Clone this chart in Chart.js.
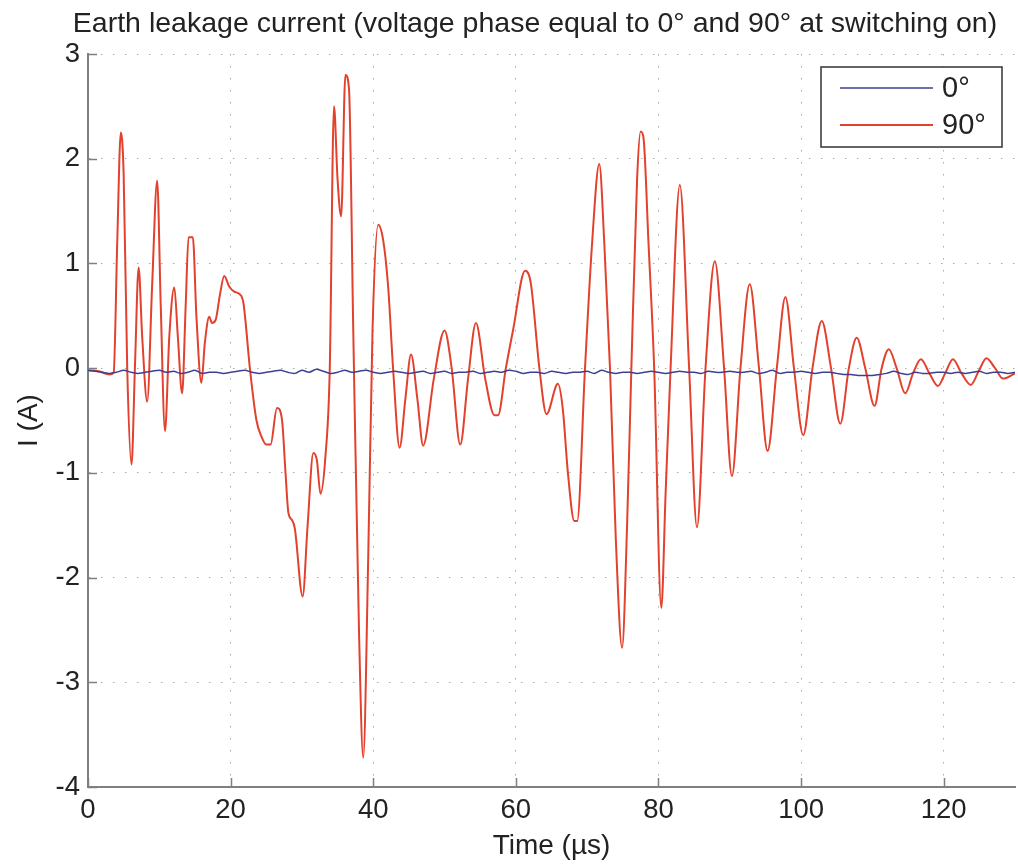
<!DOCTYPE html>
<html>
<head>
<meta charset="utf-8">
<script src="https://cdn.jsdelivr.net/npm/chart.js@4.4.1/dist/chart.umd.min.js"></script>
<style>
    html, body { margin: 0; padding: 0; background: #fff; }
    #wrap { width: 1018px; height: 865px; }
</style>
</head>
<body>
<div id="wrap"><canvas id="leakChart" width="1018" height="865"></canvas></div>
<script>
// 90° switching: time (µs) and current (A)
const redTime = [0, 1.5, 3.0, 3.6, 4.1, 4.6, 5.0, 5.5, 6.1, 6.6, 7.1, 7.6, 8.3, 9.0, 9.7, 10.2, 10.8, 11.4, 12.1, 12.6,
    13.2, 13.7, 14.1, 14.7, 15.2, 15.9, 16.4, 17.0, 17.4, 17.9, 18.5, 19.1, 19.8, 20.5, 21.2, 21.8, 22.7, 23.6, 24.3, 25.0,
    25.6, 26.5, 27.2, 27.7, 28.1, 28.6, 29.0, 30.1, 30.8, 31.6, 32.1, 32.6, 33.3, 33.9, 34.5, 35.0, 35.5, 36.1, 36.6, 37.2,
    38.0, 38.6, 39.3, 39.9, 40.7, 41.4, 42.1, 42.8, 43.7, 44.5, 45.3, 46.2, 47.0, 48.5, 50.0, 51.0, 52.2, 53.3, 54.4, 55.7,
    57.0, 57.5, 58.6, 59.6, 61.3, 62.1, 63.3, 64.3, 65.9, 66.6, 67.3, 68.2, 68.6, 69.7, 70.7, 71.7, 72.4, 73.2, 74.0, 74.9,
    75.6, 76.2, 77.0, 77.5, 77.9, 78.6, 79.4, 80.4, 81.0, 81.7, 83.0, 84.3, 85.4, 86.6, 87.9, 89.2, 90.3, 91.5, 92.8, 94.1,
    95.3, 96.6, 97.8, 99.0, 100.3, 101.6, 102.9, 104.2, 105.5, 106.7, 107.8, 109.0, 110.3, 111.3, 112.3, 113.4, 114.6, 115.7, 116.8, 118.0,
    119.2, 120.2, 121.3, 122.5, 123.8, 124.9, 126.0, 127.2, 128.3, 130];
const redCurrent = [-0.02, -0.03, -0.06, -0.04, 1.2, 2.25, 1.85, 0.0, -0.92, 0.05, 0.96, 0.3, -0.32, 0.8, 1.79, 0.6, -0.6, 0.3, 0.77, 0.3,
    -0.24, 0.6, 1.25, 1.25, 0.5, -0.14, 0.25, 0.49, 0.43, 0.46, 0.7, 0.88, 0.78, 0.73, 0.71, 0.62, 0.0, -0.49, -0.65, -0.73,
    -0.73, -0.38, -0.49, -1.0, -1.38, -1.45, -1.53, -2.18, -1.5, -0.81, -0.88, -1.2, -0.84, -0.02, 2.5, 1.8, 1.45, 2.8, 2.67, 0.36,
    -2.5, -3.72, -1.8, 0.36, 1.37, 1.22, 0.77, -0.02, -0.76, -0.3, 0.13, -0.3, -0.74, -0.1, 0.36, 0.0, -0.73, -0.1, 0.43, -0.1,
    -0.45, -0.45, 0.0, 0.36, 0.93, 0.81, 0.0, -0.44, -0.15, -0.4, -1.0, -1.46, -1.46, 0.0, 1.2, 1.95, 1.2, 0.0, -1.6, -2.67,
    -1.5, 0.0, 1.8, 2.26, 2.2, 1.2, 0.0, -2.29, -1.2, 0.0, 1.75, 0.0, -1.52, 0.0, 1.02, 0.0, -1.03, 0.0, 0.8, 0.0,
    -0.79, 0.0, 0.68, 0.0, -0.64, 0.0, 0.45, 0.0, -0.53, 0.0, 0.29, 0.0, -0.36, 0.0, 0.18, 0.0, -0.24, -0.05, 0.085, -0.05,
    -0.17, -0.05, 0.085, -0.05, -0.16, -0.03, 0.095, 0.0, -0.1, -0.05];

// 0° switching: one sample per µs from 0 to 130
const blueCurrent = [
    -0.02, -0.03, -0.04, -0.05, -0.04, -0.02, -0.04, -0.05, -0.04, -0.03,
    -0.02, -0.04, -0.03, -0.05, -0.04, -0.02, -0.05, -0.04, -0.04, -0.05,
    -0.04, -0.03, -0.02, -0.04, -0.05, -0.04, -0.03, -0.02, -0.04, -0.05,
    -0.02, -0.04, -0.01, -0.03, -0.05, -0.04, -0.02, -0.04, -0.03, -0.02,
    -0.04, -0.05, -0.04, -0.03, -0.04, -0.05, -0.04, -0.03, -0.05, -0.04,
    -0.03, -0.05, -0.04, -0.04, -0.03, -0.05, -0.04, -0.03, -0.04, -0.02,
    -0.03, -0.05, -0.04, -0.04, -0.05, -0.03, -0.04, -0.05, -0.04, -0.04,
    -0.03, -0.05, -0.02, -0.04, -0.05, -0.04, -0.04, -0.05, -0.04, -0.03,
    -0.04, -0.05, -0.04, -0.03, -0.04, -0.04, -0.05, -0.03, -0.04, -0.04,
    -0.03, -0.04, -0.04, -0.03, -0.05, -0.04, -0.02, -0.05, -0.04, -0.04,
    -0.03, -0.04, -0.05, -0.04, -0.04, -0.05, -0.06, -0.06, -0.07, -0.07,
    -0.07, -0.06, -0.05, -0.03, -0.05, -0.06, -0.04, -0.05, -0.05, -0.04,
    -0.04, -0.05, -0.04, -0.05, -0.04, -0.03, -0.05, -0.04, -0.04, -0.05,
    -0.04];

const seriesLabels = ["0°", "90°"];
const chartTitle = "Earth leakage current (voltage phase equal to 0° and 90° at switching on)";
const xTickStep = 20;
const yTickStep = 1;

const FONT = "'Liberation Sans', Arial, Helvetica, sans-serif";
const AXIS_GRAY = "#7f7f7f";

// Matlab-style title, inward ticks and the boxed legend
const matlabBits = {
    id: "matlabBits",
    afterDraw(chart) {
        const ctx = chart.ctx;
        const area = chart.chartArea;
        const xs = chart.scales.x, ys = chart.scales.y;
        ctx.save();

        // title sits a bit right of the canvas centre, like the figure
        ctx.fillStyle = "#222";
        ctx.font = "28.5px " + FONT;
        ctx.textAlign = "center";
        ctx.textBaseline = "middle";
        ctx.fillText(chartTitle, 535, 24);

        ctx.strokeStyle = AXIS_GRAY;
        ctx.lineWidth = 1.5;
        ctx.beginPath();
        xs.ticks.forEach(t => {
            let px = Math.round(xs.getPixelForValue(t.value)) + 0.5;
            ctx.moveTo(px, area.bottom);
            ctx.lineTo(px, area.bottom - 9);
        });
        ys.ticks.forEach(t => {
            let py = Math.round(ys.getPixelForValue(t.value)) + 0.5;
            ctx.moveTo(area.left, py);
            ctx.lineTo(area.left + 9, py);
        });
        ctx.stroke();

        // legend box
        let bx = 821, by = 67, bw = 181, bh = 80;
        ctx.fillStyle = "#fff";
        ctx.fillRect(bx, by, bw, bh);
        ctx.strokeStyle = "#333";
        ctx.lineWidth = 1.5;
        ctx.strokeRect(bx, by, bw, bh);
        chart.data.datasets.forEach((ds, i) => {
            let ly = by + 21 + i * 37;
            ctx.strokeStyle = ds.borderColor;
            ctx.lineWidth = ds.borderWidth;
            ctx.beginPath();
            ctx.moveTo(bx + 19, ly);
            ctx.lineTo(bx + 112, ly);
            ctx.stroke();
            ctx.fillStyle = "#222";
            ctx.font = "29px " + FONT;
            ctx.textBaseline = "middle";
            ctx.textAlign = "left";
            ctx.fillText(ds.label, bx + 121, ly + 1);
        });
        ctx.restore();
    }
};

const ctx = document.getElementById("leakChart").getContext("2d");
new Chart(ctx, {
    type: "line",
    data: {
        datasets: [
            {
                label: seriesLabels[0],
                data: blueCurrent.map((v, i) => ({ x: i, y: v })),
                borderColor: "#3f3f92",
                borderWidth: 1.5,
                pointRadius: 0,
                tension: 0.3
            },
            {
                label: seriesLabels[1],
                data: redTime.map((t, i) => ({ x: t, y: redCurrent[i] })),
                borderColor: "#e2412d",
                borderWidth: 2,
                pointRadius: 0,
                cubicInterpolationMode: "monotone"
            }
        ]
    },
    options: {
        responsive: false,
        devicePixelRatio: 1,
        animation: false,
        layout: { padding: { left: 0, right: 3, top: 54, bottom: 0 } },
        plugins: {
            legend: { display: false },
            tooltip: { enabled: false },
            title: { display: false }
        },
        scales: {
            x: {
                type: "linear",
                min: 0,
                max: 130,
                afterFit: s => { s.height = 78; },
                ticks: {
                    stepSize: xTickStep,
                    includeBounds: false,
                    maxRotation: 0,
                    padding: 7,
                    color: "#222",
                    font: { family: FONT, size: 27.5 }
                },
                grid: { color: "#aaa", lineWidth: 1, drawTicks: false },
                border: { display: true, color: AXIS_GRAY, width: 2, dash: [1.5, 10.5] },
                title: {
                    display: true,
                    text: "Time (µs)",
                    color: "#222",
                    font: { family: FONT, size: 28 },
                    padding: { top: 0, bottom: 2 }
                }
            },
            y: {
                min: -4,
                max: 3,
                afterFit: s => { s.width = 88; },
                ticks: {
                    stepSize: yTickStep,
                    padding: 8,
                    color: "#222",
                    font: { family: FONT, size: 27.5 }
                },
                grid: { color: "#aaa", lineWidth: 1, drawTicks: false },
                border: { display: true, color: AXIS_GRAY, width: 2, dash: [1.5, 10.5] },
                title: {
                    display: true,
                    text: "I (A)",
                    color: "#222",
                    font: { family: FONT, size: 28 },
                    padding: { top: 12, bottom: 0 }
                }
            }
        }
    },
    plugins: [matlabBits]
});
</script>
</body>
</html>
